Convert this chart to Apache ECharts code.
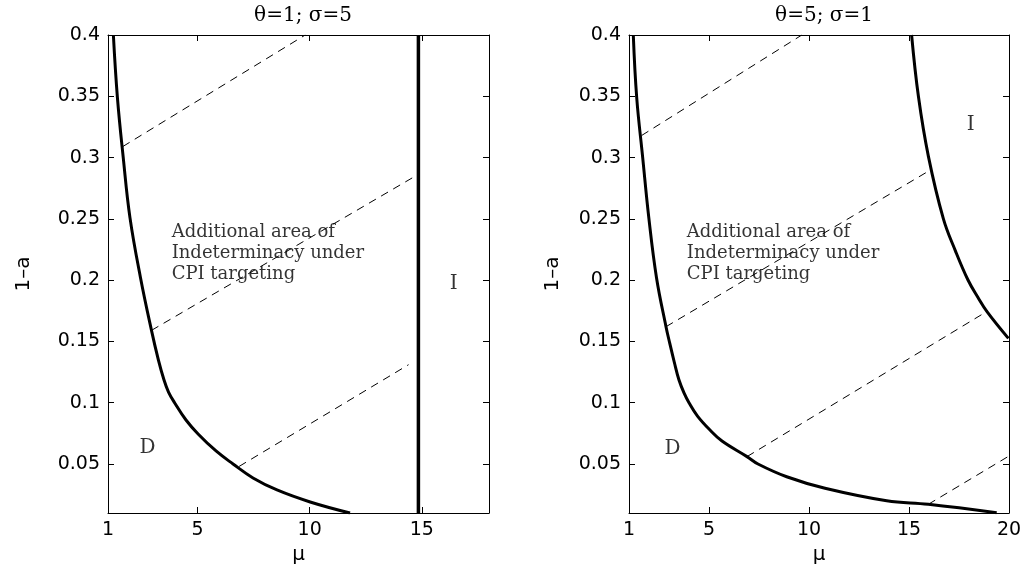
<!DOCTYPE html>
<html>
<head>
<meta charset="utf-8">
<script src="https://cdn.jsdelivr.net/npm/echarts@6/dist/echarts.min.js"></script>
<style>
html,body{margin:0;padding:0;background:#fff;}
#chart{width:1027px;height:566px;}
</style>
</head>
<body>
<div id="chart"></div>
<script>
// ---- data ----
const titles = ['θ=1; σ=5', 'θ=5; σ=1'];
const xLabelName = 'μ';
const yLabelName = '1–a';
const xRangeLeft = [1, 18];
const xRangeRight = [1, 20];
const yRange = [0.01, 0.4];
const xTicksLeft = [1, 5, 10, 15];
const xTicksRight = [1, 5, 10, 15, 20];
const yTicks = [0.05, 0.1, 0.15, 0.2, 0.25, 0.3, 0.35, 0.4];

// left panel: determinacy boundary (curve) and vertical boundary
const leftCurve = [
  [1.24, 0.40], [1.42, 0.349], [1.68, 0.300], [1.98, 0.251], [2.45, 0.202],
  [2.94, 0.159], [3.25, 0.1348], [3.5, 0.1185], [3.7, 0.1087], [3.97, 0.100],
  [4.48, 0.0859], [5.02, 0.0745], [5.82, 0.0606], [6.58, 0.050],
  [7.47, 0.0386], [8.54, 0.0288], [10.02, 0.019], [11.8, 0.010]
];
const leftVertical = [[14.85, 0.01], [14.85, 0.4]];
const leftDashes = [
  [[1.66, 0.309], [9.8, 0.4]],
  [[2.94, 0.159], [14.63, 0.284]],
  [[6.85, 0.048], [14.41, 0.131]]
];

// right panel
const rightCurve = [
  [1.215, 0.40], [1.385, 0.349], [1.685, 0.300], [1.99, 0.251], [2.375, 0.202],
  [2.85, 0.162], [3.03, 0.149], [3.265, 0.133], [3.5, 0.1185], [3.75, 0.108],
  [4.0, 0.100], [4.425, 0.0891], [5.05, 0.0777], [5.65, 0.0687],
  [6.9, 0.056], [7.45, 0.050], [8.885, 0.0396], [10.8, 0.0302], [13.885, 0.020],
  [15.965, 0.0171], [19.385, 0.0102]
];
const rightUpperCurve = [
  [15.13, 0.40], [15.47, 0.35], [15.97, 0.301], [16.72, 0.25], [17.325, 0.2237],
  [17.95, 0.2001], [18.45, 0.1858], [18.9, 0.1743], [19.97, 0.1525]
];
const rightDashes = [
  [[1.63, 0.318], [9.64, 0.4]],
  [[2.85, 0.162], [15.88, 0.288]],
  [[6.9, 0.056], [18.95, 0.175]],
  [[15.965, 0.0171], [20, 0.0565]]
];

// annotations [x, y, text, kind]
const leftNotes = [
  [2.76, 0.063, 'D', 'region'],
  [16.42, 0.197, 'I', 'region'],
  [3.84, 0.222, 'Additional area of\nIndeterminacy under\nCPI targeting', 'block']
];
const rightNotes = [
  [3.18, 0.062, 'D', 'region'],
  [18.09, 0.327, 'I', 'region'],
  [3.89, 0.222, 'Additional area of\nIndeterminacy under\nCPI targeting', 'block']
];

// ---- chart ----
const chart = echarts.init(document.getElementById('chart'), null, {renderer: 'canvas'});
const sansFont = 'DejaVu Sans';
const serifFont = 'DejaVu Serif';
const black = '#000';

function xAxes(gridIndex, range, ticks) {
  const base = {
    type: 'value', gridIndex, min: range[0], max: range[1],
    splitLine: {show: false},
    axisLine: {show: true, onZero: false, lineStyle: {color: black, width: 1}},
    axisTick: {show: true, inside: true, length: 6, customValues: ticks, lineStyle: {color: black}}
  };
  return [
    Object.assign({}, base, {
      position: 'bottom',
      name: xLabelName, nameLocation: 'middle', nameGap: 28,
      nameTextStyle: {fontFamily: sansFont, fontSize: 20, color: black},
      axisLabel: {show: true, customValues: ticks, margin: 8, color: black,
        fontFamily: sansFont, fontSize: 19, formatter: v => String(v)}
    }),
    Object.assign({}, base, {position: 'top', axisLabel: {show: false}})
  ];
}
function yAxes(gridIndex, gap) {
  const base = {
    type: 'value', gridIndex, min: yRange[0], max: yRange[1],
    splitLine: {show: false},
    axisLine: {show: true, onZero: false, lineStyle: {color: black, width: 1}},
    axisTick: {show: true, inside: true, length: 6, customValues: yTicks, lineStyle: {color: black}}
  };
  return [
    Object.assign({}, base, {
      position: 'left',
      name: yLabelName, nameLocation: 'middle', nameGap: gap,
      nameTextStyle: {fontFamily: sansFont, fontSize: 20, color: black},
      axisLabel: {show: true, customValues: yTicks, margin: 8, color: black,
        fontFamily: sansFont, fontSize: 19, formatter: v => String(v)}
    }),
    Object.assign({}, base, {position: 'right', axisLabel: {show: false}})
  ];
}

function solid(data, xi, yi, w) {
  return {type: 'line', xAxisIndex: xi, yAxisIndex: yi, data, showSymbol: false, symbol: 'none',
    smooth: 0.4, clip: true, silent: true, lineStyle: {color: black, width: w}};
}
function dashed(data, xi, yi) {
  return {type: 'line', xAxisIndex: xi, yAxisIndex: yi, data, showSymbol: false, symbol: 'none',
    clip: true, silent: true, lineStyle: {color: black, width: 1, type: [8, 6]}};
}
function notes(list, xi, yi) {
  return {
    type: 'scatter', xAxisIndex: xi, yAxisIndex: yi, silent: true,
    symbol: 'circle', symbolSize: 1, itemStyle: {color: 'rgba(0,0,0,0)'},
    data: list.map(n => ({
      value: [n[0], n[1]],
      label: n[3] === 'block'
        ? {show: true, position: 'inside', align: 'left', verticalAlign: 'middle',
           formatter: n[2], fontFamily: serifFont, fontSize: 18, lineHeight: 21, color: black}
        : {show: true, position: 'inside', align: 'center', verticalAlign: 'middle',
           formatter: n[2], fontFamily: serifFont, fontSize: 20, color: black}
    }))
  };
}

const series = [];
series.push(solid(leftCurve, 0, 0, 3));
series.push(solid(leftVertical, 0, 0, 3.5));
leftDashes.forEach(d => series.push(dashed(d, 0, 0)));
series.push(notes(leftNotes, 0, 0));
series.push(solid(rightCurve, 2, 2, 3));
series.push(solid(rightUpperCurve, 2, 2, 3));
rightDashes.forEach(d => series.push(dashed(d, 2, 2)));
series.push(notes(rightNotes, 2, 2));

const option = {
  animation: false,
  backgroundColor: '#fff',
  title: [
    {text: titles[0], left: 298, top: 1, textAlign: 'center',
     textStyle: {fontFamily: serifFont, fontSize: 20, fontWeight: 'normal', color: black}},
    {text: titles[1], left: 819, top: 1, textAlign: 'center',
     textStyle: {fontFamily: serifFont, fontSize: 20, fontWeight: 'normal', color: black}}
  ],
  grid: [
    {left: 108, top: 35, width: 381, height: 478, containLabel: false, outerBoundsMode: 'none'},
    {left: 629, top: 35, width: 380, height: 478, containLabel: false, outerBoundsMode: 'none'}
  ],
  xAxis: [].concat(xAxes(0, xRangeLeft, xTicksLeft), xAxes(1, xRangeRight, xTicksRight)),
  yAxis: [].concat(yAxes(0, 74), yAxes(1, 66)),
  series
};
chart.setOption(option);
</script>
</body>
</html>
